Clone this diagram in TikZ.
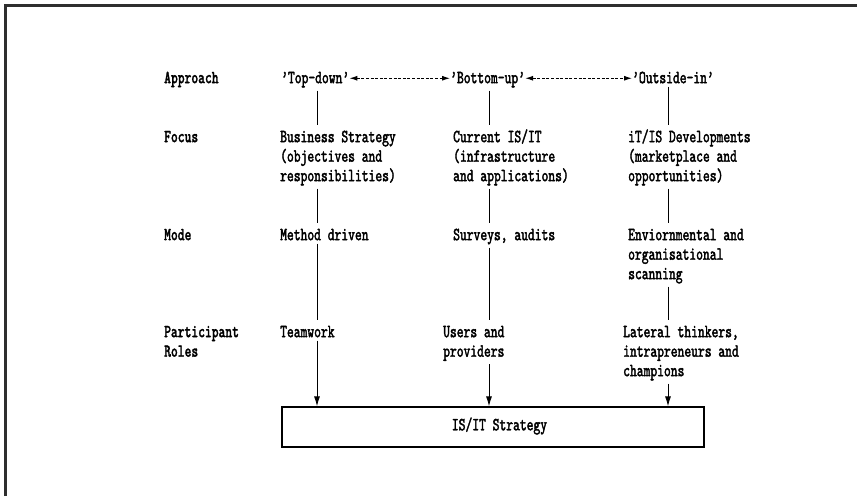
\documentclass[tikz,border=0pt]{standalone}
\usepackage{fontspec}
\usetikzlibrary{arrows.meta}
% condensed typewriter faces for the chart
\newfontfamily\dfont{lmmono10-regular.otf}[FakeStretch=0.70,FakeBold=2]
\newfontfamily\lfont{lmmonolt10-bold.otf}[FakeStretch=0.70,FakeBold=1.4]
\newcommand{\hs}{\rule{0pt}{14pt}}
\tikzset{
  txt/.style={anchor=north west, inner xsep=0pt, inner ysep=3pt, align=left,
    font=\dfont\fontsize{18.5}{19.5}\selectfont},
  rowlabel/.style={txt, font=\lfont\fontsize{18.5}{19.5}\selectfont},
  link/.style={line width=0.9pt},
  feed/.style={line width=0.9pt, -{Latex[length=10pt,width=6pt]}},
  swap/.style={line width=1pt, dash pattern=on 3pt off 1.6pt,
    {Latex[length=8pt,width=5pt]}-{Latex[length=8pt,width=5pt]}},
  stratbox/.style={draw, line width=1.3pt, minimum width=422pt, minimum height=40pt,
    inner sep=0pt}
}
\begin{document}
\begin{tikzpicture}[x=1pt,y=-1pt]
\useasboundingbox (0,0) rectangle (857,496);
% page frame (top and left edges)
\draw[line width=3pt, color=black!82] (5.5,496) -- (5.5,5.5) -- (857,5.5);

% column axes
\coordinate (c1) at (317,0);
\coordinate (c2) at (489,0);
\coordinate (c3) at (668,0);

% row labels
\node[rowlabel] (lapp) at (164,66) {\hs Approach};
\node[rowlabel] (lfoc) at (164,125) {\hs Focus};
\node[rowlabel] (lmod) at (164,223) {\hs Mode};
\node[rowlabel] (lpar) at (164,320) {\hs Participant\\Roles};

% approaches
\node[txt] (td) at (281,66) {\hs ’Top-down’};
\node[txt] (bu) at (450,66) {\hs ’Bottom-up’};
\node[txt] (oi) at (632,66) {\hs ’Outside-in’};

% focus
\node[txt] (f1) at (280,125) {\hs Business Strategy\\(objectives and\\responsibilities)};
\node[txt] (f2) at (453,125) {\hs Current IS/IT\\(infrastructure\\and applications)};
\node[txt] (f3) at (628,125) {\hs iT/IS Developments\\(marketplace and\\opportunities)};

% mode
\node[txt] (m1) at (280,223) {\hs Method driven};
\node[txt] (m2) at (453,223) {\hs Surveys, audits};
\node[txt] (m3) at (628,223) {\hs Enviornmental and\\organisational\\scanning};

% participant roles
\node[txt] (p1) at (280,320) {\hs Teamwork};
\node[txt] (p2) at (443,320) {\hs Users and\\providers};
\node[txt] (p3) at (623,320) {\hs Lateral thinkers,\\intrapreneurs and\\champions};

% outcome
\node[stratbox] (box) at (493,427) {};
\node[inner sep=0pt, font=\dfont\fontsize{18.5}{19.5}\selectfont] (boxlabel) at (499.5,426) {IS/IT Strategy};

% links between approaches
\draw[swap] (td.east) -- (td.east -| bu.west);
\draw[swap] (bu.east) -- (bu.east -| oi.west);

% column chains
\draw[link] (c1 |- td.south) -- (c1 |- f1.north);
\draw[link] (c1 |- f1.south) -- (c1 |- m1.north);
\draw[link] (c1 |- m1.south) -- (c1 |- p1.north);
\draw[feed] (c1 |- p1.south) -- (c1 |- box.north);

\draw[link] (c2 |- bu.south) -- (c2 |- f2.north);
\draw[link] (c2 |- f2.south) -- (c2 |- m2.north);
\draw[link] (c2 |- m2.south) -- (c2 |- p2.north);
\draw[feed] (c2 |- p2.south) -- (c2 |- box.north);

\draw[link] (c3 |- oi.south) -- (c3 |- f3.north);
\draw[link] (c3 |- f3.south) -- (c3 |- m3.north);
\draw[link] (c3 |- m3.south) -- (c3 |- p3.north);
\draw[feed] (c3 |- p3.south) -- (c3 |- box.north);
\end{tikzpicture}
\end{document}
